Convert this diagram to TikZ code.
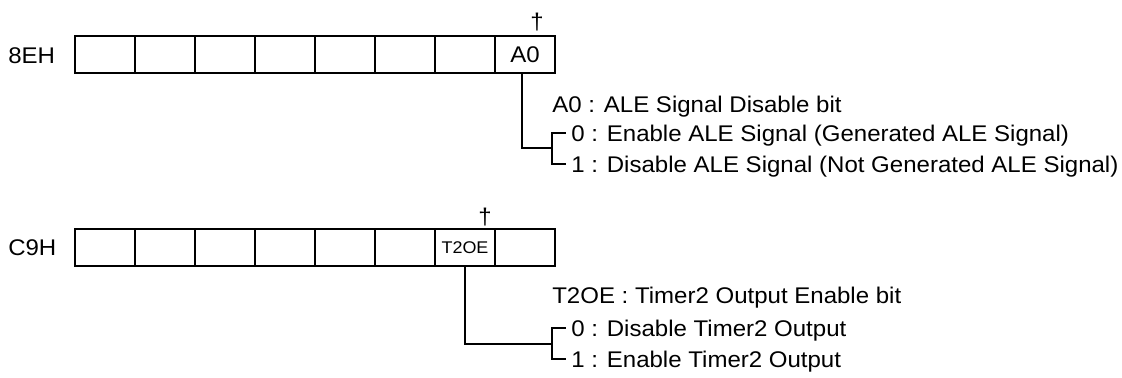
\documentclass[tikz,border=0pt]{standalone}
\usepackage{fontspec}
\setmainfont{Liberation Sans}[FakeStretch=1.06]

\begin{document}
\begin{tikzpicture}[x=0.75pt,y=-0.75pt,
    every node/.style={font=\fontsize{17pt}{20pt}\selectfont},
    cell/.style={draw,line width=1.6pt,minimum width=45pt,minimum height=27.75pt,inner sep=0pt,outer sep=0pt},
    small/.style={font=\fontsize{12.7pt}{14pt}\selectfont,inner sep=0pt},
    reglbl/.style={anchor=west,inner sep=0pt},
    desc/.style={anchor=west,inner sep=0pt,text height=14.5pt,text depth=2.3pt},
    wire/.style={line width=1.6pt}]
        \useasboundingbox (0,0) rectangle (1122,378);

        % register 8EH
        \node[reglbl] (lblA) at (8,56) {8EH};
        \foreach \i in {0,...,7} \node[cell] (ale\i) at (105+60*\i,54.5) {};
        \node[inner sep=0pt] (aleA0) at (ale7.center) {A0};
        \node[inner sep=0pt] (dagA) at (537,22) {†};

        \node[desc] (descA) at (552,104) {A0 : ALE Signal Disable bit};
        \node[desc] (optA0) at (571,133) {0 : Enable ALE Signal (Generated ALE Signal)};
        \node[desc] (optA1) at (571,164) {1 : Disable ALE Signal (Not Generated ALE Signal)};
        \coordinate (forkA) at (552,148);

        \draw[wire] ([xshift=-2pt]ale7.south) |- (forkA);
        \draw[wire] ([xshift=-4pt]optA0.west) -- (forkA |- optA0.west) -- (forkA |- optA1.west) -- ([xshift=-4pt]optA1.west);

        % register C9H
        \node[reglbl] (lblB) at (8,247.5) {C9H};
        \foreach \i in {0,...,7} \node[cell] (tmr\i) at (105+60*\i,247.5) {};
        \node[small] (tmrT2OE) at (tmr6.center) {T2OE};
        \node[inner sep=0pt] (dagB) at (485,217) {†};

        \node[desc] (descB) at (552,295) {T2OE : Timer2 Output Enable bit};
        \node[desc] (optB0) at (571,328) {0 : Disable Timer2 Output};
        \node[desc] (optB1) at (571,359) {1 : Enable Timer2 Output};
        \coordinate (forkB) at (552,344);

        \draw[wire] (tmr6.south) |- (forkB);
        \draw[wire] ([xshift=-4pt]optB0.west) -- (forkB |- optB0.west) -- (forkB |- optB1.west) -- ([xshift=-4pt]optB1.west);
\end{tikzpicture}
\end{document}
